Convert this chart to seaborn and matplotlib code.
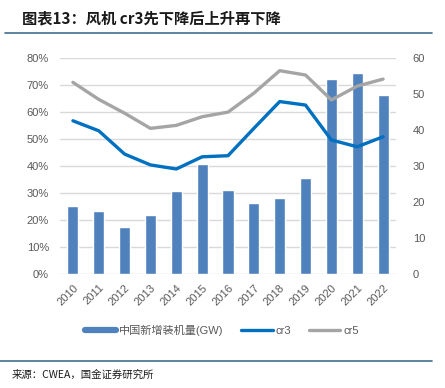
import matplotlib
matplotlib.use("Agg")
import matplotlib.pyplot as plt
import seaborn as sns
import numpy as np
import pandas as pd
from matplotlib.lines import Line2D

years = ["2010", "2011", "2012", "2013", "2014", "2015", "2016", "2017", "2018", "2019", "2020", "2021", "2022"]
capacity = [18.9, 17.5, 13.0, 16.3, 23.1, 30.6, 23.3, 19.7, 21.0, 26.7, 54.2, 55.7, 49.7]
cr3 = [56.7, 53.0, 44.4, 40.4, 38.9, 43.4, 43.8, 53.9, 63.8, 62.5, 49.6, 47.1, 50.8]
cr5 = [70.9, 64.6, 59.5, 53.9, 55.0, 58.2, 59.9, 66.9, 75.2, 73.6, 64.4, 69.5, 72.1]
left_ticks = [0, 10, 20, 30, 40, 50, 60, 70, 80]
right_ticks = [0, 10, 20, 30, 40, 50, 60]

sns.set_theme(style="white")
plt.rcParams['font.family'] = ['Liberation Sans', 'Noto Sans CJK SC', 'DejaVu Sans']
cjk = ['Noto Sans CJK SC', 'DejaVu Sans']

df = pd.DataFrame({"year": years, "capacity": capacity, "cr3": cr3, "cr5": cr5})
df["x"] = np.arange(len(years))

fig = plt.figure(figsize=(4.45, 3.88), dpi=100)
rect = [60/445, 1-274.3/388, 336/445, 216.6/388]

bar_c = "#4f81bd"
cr3_c = "#0070c0"
cr5_c = "#a5a5a5"
grey = "#595959"

# background axes carrying only the horizontal gridlines (left-axis scale)
axg = fig.add_axes(rect, zorder=0)
axg.set_ylim(0, 80)
axg.set_yticks(left_ticks)
axg.set_xticks([])
axg.yaxis.grid(True, color="#d9d9d9", linewidth=1.0)
axg.tick_params(length=0, labelleft=False, labelbottom=False)
for s in axg.spines.values():
    s.set_visible(False)

ax = fig.add_axes(rect, zorder=1)
ax.patch.set_visible(False)
sns.barplot(data=df, x="year", y="capacity", ax=ax, color=bar_c, width=0.43, saturation=1, zorder=2)
ax.set_xlim(-0.5, len(years) - 0.5)
ax.set_ylim(0, 60)
ax.set_xlabel("")
ax.set_ylabel("")

ax2 = ax.twinx()
ax2.patch.set_visible(False)
sns.lineplot(data=df, x="x", y="cr5", ax=ax2, color=cr5_c, linewidth=2.4, zorder=3)
sns.lineplot(data=df, x="x", y="cr3", ax=ax2, color=cr3_c, linewidth=2.4, zorder=3)
ax2.set_ylim(0, 80)
ax2.set_xlim(-0.5, len(years) - 0.5)
ax2.set_xlabel("")
ax2.set_ylabel("")

ax.yaxis.tick_right()
ax2.yaxis.tick_left()
ax.set_yticks(right_ticks)
ax.set_yticklabels([str(v) for v in right_ticks])
ax2.set_yticks(left_ticks)
ax2.set_yticklabels([f"{v}%" for v in left_ticks])
ax.grid(False)
ax2.grid(False)

for a in (ax, ax2):
    for s in a.spines.values():
        s.set_visible(False)
    a.tick_params(axis="both", which="both", length=0, colors=grey, labelsize=8)
ax.tick_params(axis="y", pad=12)
ax2.tick_params(axis="y", pad=8)
ax.set_xticks(np.arange(len(years)))
ax.set_xticklabels(years, rotation=45, ha="right", rotation_mode="anchor", fontsize=8, color=grey)
ax.tick_params(axis="x", pad=6)

handles = [
    Line2D([0], [0], color=bar_c, linewidth=4.5),
    Line2D([0], [0], color=cr3_c, linewidth=2.4),
    Line2D([0], [0], color=cr5_c, linewidth=2.4),
]
labels = ["中国新增装机量(GW)", "cr3", "cr5"]
leg = fig.legend(handles, labels, loc="center", bbox_to_anchor=(222/445, 1-330/388), ncol=3,
                 frameon=False, fontsize=8, handlelength=2.8, handletextpad=0.3, columnspacing=1.6)
for t in leg.get_texts():
    t.set_color(grey)

fig.text(22/445, 1-18/388, "图表13：风机 cr3先下降后上升再下降", fontsize=11, fontweight="bold",
         style="italic", ha="left", va="center", color="#1a1a1a", family=cjk)
fig.add_artist(Line2D([5/445, 432/445], [1-33/388, 1-33/388], color="#3f6f8f", linewidth=1.2))
fig.add_artist(Line2D([0/445, 432/445], [1-361/388, 1-361/388], color="#3f6f8f", linewidth=1.2))
fig.text(12/445, 1-375/388, "来源：CWEA，国金证券研究所", fontsize=7.5, ha="left", va="center",
         color="#1a1a1a", family=cjk)

fig.savefig("out.png", dpi=100, facecolor="white")
